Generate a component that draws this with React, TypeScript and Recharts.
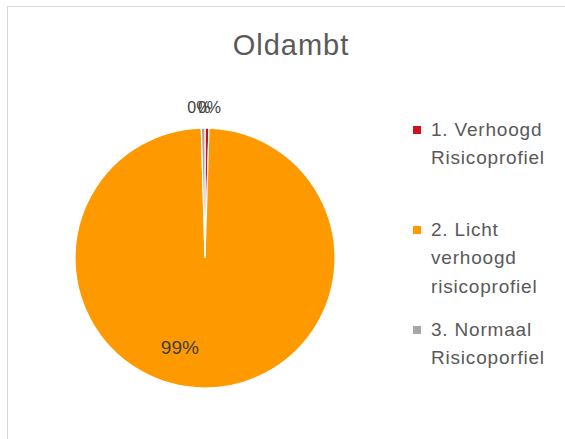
import React from "react";
import { PieChart, Pie, Cell, Legend } from "recharts";

const categories = [
  "1. Verhoogd Risicoprofiel",
  "2. Licht verhoogd risicoprofiel",
  "3. Normaal Risicoporfiel",
];
const values = [0.49, 99.06, 0.45];
const colors = ["#D0101B", "#FF9900", "#A6A6A6"];
const title = "Oldambt";

const data = categories.map((name, i) => ({ name, value: values[i] }));

const RAD = Math.PI / 180;
const FONT = "'Liberation Sans', Arial, sans-serif";

const renderLabel = (props: any) => {
  const { cx, cy, midAngle, outerRadius, percent, index } = props;
  const txt = `${Math.round(percent * 100)}%`;
  if (percent > 0.05) {
    const r = outerRadius * 0.69;
    const x = cx + r * Math.cos(-midAngle * RAD) - 25;
    const y = cy + r * Math.sin(-midAngle * RAD);
    return (
      <text x={x} y={y} textAnchor="middle" dominantBaseline="central" fill="#404040" fontSize={19} fontFamily={FONT}>
        {txt}
      </text>
    );
  }
  const r = outerRadius + 21;
  const shift = index === 0 ? 2 : -4;
  const x = cx + r * Math.cos(-midAngle * RAD) + shift;
  const y = cy + r * Math.sin(-midAngle * RAD);
  return (
    <text x={x} y={y} textAnchor="middle" dominantBaseline="central" fill="#404040" fontSize={16} fontFamily={FONT}>
      {txt}
    </text>
  );
};

const renderLegend = (props: any) => {
  const { payload } = props;
  return (
    <div style={{ fontFamily: FONT }}>
      {(payload || []).map((entry: any, i: number) => (
        <div key={i} style={{ height: 100, display: "flex", alignItems: "flex-start" }}>
          <div
            style={{
              width: 8,
              height: 8,
              background: entry.color,
              marginTop: 10,
              marginRight: 10,
              flex: "0 0 8px",
            }}
          />
          <div
            style={{
              width: 130,
              fontSize: 19,
              lineHeight: "28.5px",
              letterSpacing: 0.8,
              color: "#595959",
              whiteSpace: "normal",
            }}
          >
            {entry.value}
          </div>
        </div>
      ))}
    </div>
  );
};

export default function App() {
  return (
    <div
      style={{
        position: "absolute",
        left: 0,
        top: 0,
        width: 565,
        height: 439,
        overflow: "hidden",
        background: "#fff",
      }}
    >
      <div
        style={{
          position: "absolute",
          left: 7,
          top: 6,
          width: 700,
          height: 600,
          border: "1px solid #D9D9D9",
        }}
      />
      <div
        style={{
          position: "absolute",
          left: 191,
          top: 30.5,
          width: 200,
          textAlign: "center",
          fontFamily: FONT,
          fontSize: 29,
          lineHeight: "29px",
          letterSpacing: 1,
          color: "#595959",
        }}
      >
        {title}
      </div>
      <div style={{ position: "absolute", left: 0, top: 0 }}>
        <PieChart width={565} height={439} margin={{ top: 0, right: 0, bottom: 0, left: 0 }}>
          <Pie
            data={data}
            dataKey="value"
            nameKey="name"
            cx={205}
            cy={258}
            outerRadius={130}
            startAngle={90}
            endAngle={-270}
            stroke="#FFFFFF"
            strokeWidth={1.2}
            label={renderLabel}
            labelLine={false}
            isAnimationActive={false}
          >
            {data.map((d, i) => (
              <Cell key={d.name} fill={colors[i]} />
            ))}
          </Pie>
          <Legend
            layout="vertical"
            content={renderLegend}
            wrapperStyle={{ position: "absolute", left: 413, top: 115.75, width: 150 }}
          />
        </PieChart>
      </div>
    </div>
  );
}
